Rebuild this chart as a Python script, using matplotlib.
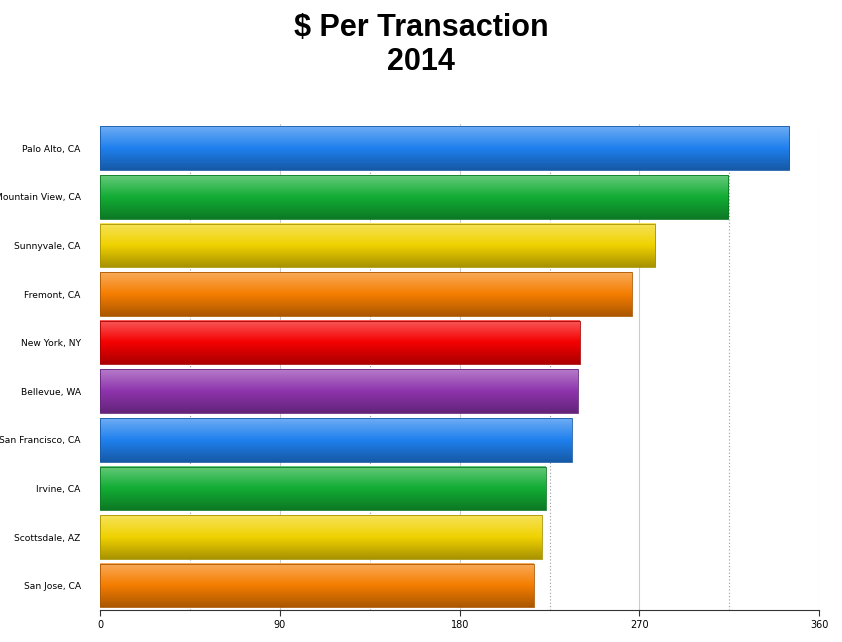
import matplotlib
matplotlib.use("Agg")
import matplotlib.pyplot as plt
import numpy as np
from matplotlib.colors import to_rgb

cities = ["Palo Alto, CA", "Mountain View, CA", "Sunnyvale, CA", "Fremont, CA", "New York, NY",
          "Bellevue, WA", "San Francisco, CA", "Irvine, CA", "Scottsdale, AZ", "San Jose, CA"]
values = [345, 314.5, 278, 266, 240, 239, 236, 223, 221, 217]
colors = ["#1f80ee", "#12ad34", "#f0d200", "#f57d00", "#f50000", "#8e34ad",
          "#1f80ee", "#12ad34", "#f0d200", "#f57d00"]
xticks = [0, 90, 180, 270, 360]

fig = plt.figure(figsize=(8.42, 6.42), dpi=100)
ax = fig.add_axes([0.119, 0.05, 0.854, 0.757])
ax.set_xlim(0, 360)
n = len(cities)

for x in xticks[1:]:
    ax.axvline(x, color="#cccccc", lw=0.8, zorder=0)
for x in [45, 135, 225, 315]:
    ax.axvline(x, color="#999999", lw=0.8, ls=(0, (1, 2)), zorder=0)

h = 0.9
for i, (v, c) in enumerate(zip(values, colors)):
    base = np.array(to_rgb(c))
    t = np.linspace(0, 1, 64)[:, None]
    light = base + (1 - base) * 0.35
    dark = base * 0.7
    grad = np.where(t < 0.5, light + (base - light) * (t / 0.5), base + (dark - base) * ((t - 0.5) / 0.5))
    img = grad[:, None, :]
    ax.imshow(img, extent=(0, v, i + h / 2, i - h / 2), aspect="auto", zorder=2, interpolation="bilinear")
    ax.add_patch(plt.Rectangle((0, i - h / 2), v, h, fill=False, ec=dark, lw=0.6, zorder=3))

ax.set_ylim(n - 0.5, -0.5)
ax.set_xlim(0, 360)
ax.set_yticks(range(n))
ax.set_yticklabels(cities, fontsize=7)
ax.set_xticks(xticks)
ax.set_xticklabels([str(x) for x in xticks], fontsize=7)
ax.tick_params(axis="y", length=0, pad=14)
ax.tick_params(axis="x", length=4, color="#333333")
for lab in ax.get_yticklabels():
    lab.set_fontsize(6.6)
ax.tick_params(axis="y", pad=14)
for s in ["top", "right", "left"]:
    ax.spines[s].set_visible(False)
ax.spines["bottom"].set_color("#333333")

fig.text(0.5, 0.93, "$ Per Transaction\n2014", ha="center", va="center",
         fontsize=22, fontweight="bold", linespacing=1.2, family="Liberation Sans")
fig.savefig("out.png", dpi=100)
